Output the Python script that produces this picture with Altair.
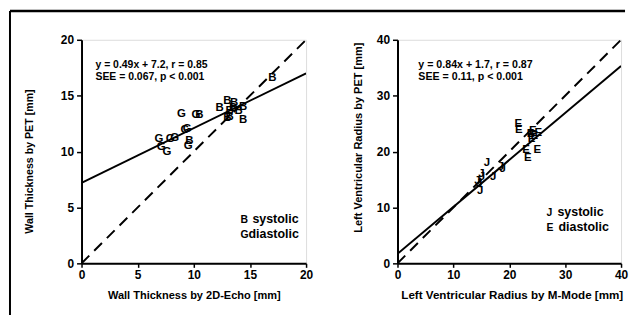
import altair as alt
import pandas as pd

FONT = "Liberation Sans"

# ---------------- Left panel: wall thickness ----------------
wt_sys_x = [12.3, 13.0, 13.6, 14.4, 13.2, 14.0, 13.2, 13.0, 14.4, 17.0, 13.5, 9.6, 10.5]
wt_sys_y = [13.9, 14.5, 14.3, 14.0, 13.6, 13.6, 13.1, 13.0, 12.8, 16.6, 13.9, 10.9, 13.3]
wt_dia_x = [8.9, 10.2, 6.9, 7.1, 7.6, 7.9, 8.3, 9.2, 9.4, 9.5]
wt_dia_y = [13.4, 13.3, 11.1, 10.4, 10.0, 11.1, 11.2, 11.9, 12.0, 10.5]
wt_fit_x = [0, 20]
wt_fit_y = [7.2, 17.0]
wt_id_x = [0, 20]
wt_id_y = [0, 20]
wt_ticks = [0, 5, 10, 15, 20]
wt_eq = ["y = 0.49x + 7.2, r = 0.85", "SEE = 0.067, p < 0.001"]
wt_sym = ["B", "G"]

# ---------------- Right panel: LV radius ----------------
lv_sys_x = [16.0, 17.1, 18.5, 18.8, 15.1, 14.6, 14.8, 15.0, 14.3]
lv_sys_y = [18.0, 15.5, 17.3, 16.8, 15.5, 14.2, 13.0, 16.0, 14.8]
lv_dia_x = [21.6, 21.7, 24.2, 25.2, 24.5, 24.0, 23.0, 25.0, 23.3, 23.8]
lv_dia_y = [25.0, 23.9, 23.6, 23.3, 22.8, 22.3, 20.3, 20.3, 18.9, 23.2]
lv_fit_x = [0, 40]
lv_fit_y = [1.7, 35.3]
lv_id_x = [0, 40]
lv_id_y = [0, 40]
lv_ticks = [0, 10, 20, 30, 40]
lv_eq = ["y = 0.84x + 1.7, r = 0.87", "SEE = 0.11, p < 0.001"]
lv_sym = ["J", "E"]

legend_labels = ["systolic", "diastolic"]


def panel(sx, sy, dx, dy, fx, fy, ix, iy, ticks, eq, sym, xtitle, ytitle,
          width, xt_x, xt_size, yt_x, yt_y, yt_size, eq_x, eq_size,
          leg_sym_x, leg_txt_x, leg_y, frame=False):
    dmax = ticks[-1]
    pts = pd.DataFrame({
        "x": sx + dx,
        "y": sy + dy,
        "s": [sym[0]] * len(sx) + [sym[1]] * len(dx),
    })
    fit = pd.DataFrame({"x": fx, "y": fy})
    ident = pd.DataFrame({"x": ix, "y": iy})

    xscale = alt.Scale(domain=[0, dmax], nice=False, zero=True)
    yscale = alt.Scale(domain=[0, dmax], nice=False, zero=True)
    xaxis = alt.Axis(values=ticks, format="d", grid=False, tickSize=4, tickWidth=1.5,
                     domainWidth=2, domainColor="black", tickColor="black",
                     labelFont=FONT, labelFontSize=12, labelFontWeight="bold",
                     labelColor="black", labelPadding=2, labelFlush=False,
                     title=xtitle, titleFont=FONT, titleFontSize=xt_size,
                     titleFontWeight="bold", titleColor="black",
                     titleX=xt_x, titleY=35, titleAlign="center",
                     titleBaseline="alphabetic")
    yaxis = alt.Axis(values=ticks, format="d", grid=False, tickSize=5, tickWidth=1.5,
                     domainWidth=2, domainColor="black", tickColor="black",
                     labelFont=FONT, labelFontSize=12, labelFontWeight="bold",
                     labelColor="black", labelPadding=3, labelFlush=False,
                     title=ytitle, titleFont=FONT, titleFontSize=yt_size,
                     titleFontWeight="bold", titleColor="black",
                     titleX=yt_x, titleY=yt_y, titleAngle=270, titleAlign="center",
                     titleBaseline="bottom")

    fit_line = alt.Chart(fit).mark_line(color="black", strokeWidth=2, clip=True).encode(
        x=alt.X("x:Q", scale=xscale, axis=xaxis),
        y=alt.Y("y:Q", scale=yscale, axis=yaxis),
    )
    id_line = alt.Chart(ident).mark_line(color="black", strokeWidth=2,
                                          strokeDash=[11, 7], clip=True).encode(
        x="x:Q", y="y:Q")
    points = alt.Chart(pts).mark_text(font=FONT, fontSize=11.5, fontWeight="bold",
                                      color="black", align="center",
                                      baseline="middle").encode(
        x="x:Q", y="y:Q", text="s:N")

    layers = [fit_line, id_line, points]
    for i, line in enumerate(eq):
        layers.append(alt.Chart().mark_text(
            font=FONT, fontSize=eq_size, fontWeight="bold", color="black",
            align="left", baseline="alphabetic").encode(
            x=alt.value(eq_x), y=alt.value(28 + 12 * i), text=alt.value(line)))
    for i in range(2):
        layers.append(alt.Chart().mark_text(
            font=FONT, fontSize=10.5, fontWeight="bold", color="black",
            align="left", baseline="alphabetic").encode(
            x=alt.value(leg_sym_x), y=alt.value(leg_y + 15 * i), text=alt.value(sym[i])))
        layers.append(alt.Chart().mark_text(
            font=FONT, fontSize=12.5, fontWeight="bold", color="black",
            align="left", baseline="alphabetic").encode(
            x=alt.value(leg_txt_x[i]), y=alt.value(leg_y + 15 * i),
            text=alt.value(legend_labels[i])))
    if frame:
        layers.append(alt.Chart().mark_rule(color="black", strokeWidth=2.5).encode(
            x=alt.value(-72), x2=alt.value(547), y=alt.value(-29)))
        layers.append(alt.Chart().mark_rule(color="black", strokeWidth=2).encode(
            x=alt.value(-72), y=alt.value(-29), y2=alt.value(277)))
    return alt.layer(*layers).properties(width=width, height=225)


left = panel(wt_sys_x, wt_sys_y, wt_dia_x, wt_dia_y, wt_fit_x, wt_fit_y, wt_id_x, wt_id_y,
             wt_ticks, wt_eq, wt_sym, "Wall Thickness by 2D-Echo [mm]",
             "Wall Thickness by PET [mm]", 226, 113, 11.1, -47, 122, 10.7, 14, 10.5,
             160, [172, 168], 184, frame=True)
right = panel(lv_sys_x, lv_sys_y, lv_dia_x, lv_dia_y, lv_fit_x, lv_fit_y, lv_id_x, lv_id_y,
              lv_ticks, lv_eq, lv_sym, "Left Ventricular Radius by M-Mode [mm]",
              "Left Ventricular Radius by PET [mm]", 225, 115, 11.7, -34, 98, 11.1, 21, 10.7,
              150, [161, 162], 177)

chart = alt.hconcat(left, right, spacing=92, bounds="flush",
                    padding={"left": 0, "top": 0, "right": 0, "bottom": 0}
                    ).configure_view(stroke="black", strokeWidth=1.5
                    ).configure(background="white")

chart.save("out.html", embed_options={"renderer": "svg", "actions": False})
